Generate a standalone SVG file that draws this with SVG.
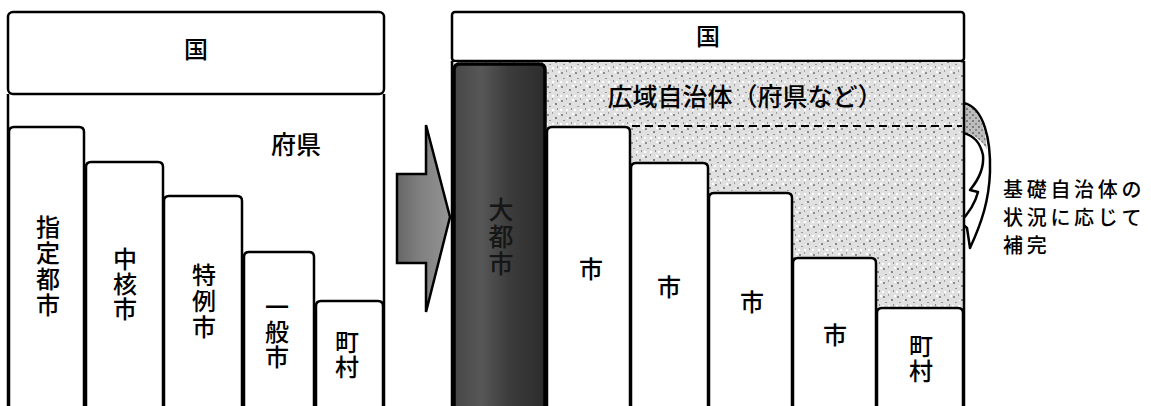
<svg xmlns="http://www.w3.org/2000/svg" width="1151" height="406" viewBox="0 0 1151 406">
<defs>
<style>
.box{fill:#fff;stroke:#000;stroke-width:2.5}
.col{fill:#fff;stroke:#000;stroke-width:2.5}
.t{font-family:"Noto Sans CJK JP","Noto Sans",sans-serif;font-size:24px;font-weight:500;fill:#000}
.tv{font-family:"Noto Sans CJK JP","Noto Sans",sans-serif;font-size:24px;font-weight:500;fill:#000;writing-mode:vertical-rl;text-orientation:upright}
.line{fill:none;stroke:#000;stroke-width:2.5}
</style>
<pattern id="stip" width="14" height="14" patternUnits="userSpaceOnUse">
<rect width="14" height="14" fill="#e0e0e0"/>
<rect x="1" y="2" width="2" height="2" fill="#8f8f8f"/>
<rect x="6" y="0" width="1" height="2" fill="#a0a0a0"/>
<rect x="9" y="5" width="2" height="2" fill="#858585"/>
<rect x="3" y="8" width="2" height="1" fill="#9a9a9a"/>
<rect x="11" y="10" width="1" height="2" fill="#909090"/>
<rect x="6" y="11" width="2" height="2" fill="#fff"/>
<rect x="12" y="1" width="2" height="2" fill="#fff"/>
<rect x="0" y="11" width="2" height="2" fill="#fff"/>
<rect x="7" y="6" width="1" height="1" fill="#fff"/>
</pattern>
<pattern id="stipdark" width="6" height="6" patternUnits="userSpaceOnUse">
<rect width="6" height="6" fill="#bdbdbd"/>
<rect x="0" y="0" width="2" height="2" fill="#7a7a7a"/>
<rect x="3" y="3" width="2" height="2" fill="#8a8a8a"/>
</pattern>
<linearGradient id="arrowg" x1="0" y1="0" x2="1" y2="0">
<stop offset="0" stop-color="#666"/>
<stop offset="0.4" stop-color="#7e7e7e"/>
<stop offset="1" stop-color="#959595"/>
</linearGradient>
<linearGradient id="darkg" x1="0" y1="0" x2="1" y2="0">
<stop offset="0" stop-color="#474747"/>
<stop offset="0.3" stop-color="#575757"/>
<stop offset="0.6" stop-color="#3c3c3c"/>
<stop offset="1" stop-color="#2c2c2c"/>
</linearGradient>
</defs>

<g id="left-kuni">
<rect class="box" x="8" y="12" width="376" height="82" rx="5"/>
<text class="t" x="196" y="58" text-anchor="middle">国</text>
</g>
<g id="left-fuken">
<path class="line" d="M8,94 V410 M384,94 V410"/>
<text class="t" x="296" y="154" text-anchor="middle" style="font-size:25px">府県</text>
</g>
<g id="left-shitei">
<path class="col" d="M9,410 V132 Q9,127 14,127 H79 Q84,127 84,132 V410"/>
<text class="tv" x="48" y="215" style="letter-spacing:2px">指定都市</text>
</g>
<g id="left-chukaku">
<path class="col" d="M86,410 V167 Q86,162 91,162 H158 Q163,162 163,167 V410"/>
<text class="tv" x="125" y="247" style="letter-spacing:1px">中核市</text>
</g>
<g id="left-tokurei">
<path class="col" d="M164,410 V201 Q164,196 169,196 H237 Q242,196 242,201 V410"/>
<text class="tv" x="204" y="263" style="letter-spacing:2px">特例市</text>
</g>
<g id="left-ippan">
<path class="col" d="M244,410 V257 Q244,252 249,252 H309 Q314,252 314,257 V410"/>
<text class="tv" x="277" y="295" style="letter-spacing:1px">一般市</text>
</g>
<g id="left-chouson">
<path class="col" d="M316,410 V306 Q316,301 321,301 H378 Q383,301 383,306 V410"/>
<text class="tv" x="347" y="330" style="letter-spacing:1px">町村</text>
</g>

<g id="connectors">
<path d="M397,174 H426 V125 L450,217 L426,312 V263 H397 Z" fill="url(#arrowg)" stroke="#000" stroke-width="2.5" stroke-linejoin="miter"/>
<path d="M964,103 C984,108 991,140 990,172 C989,200 982,222 970,248 L967,228 L960,222 C970,212 976,200 978,192 L970,190 C980,178 984,165 983,155 C980,142 974,136 964,133 Z" fill="#fff" stroke="#000" stroke-width="2.5" stroke-linejoin="round"/>
<path d="M965.5,105 C979,109 985,125 987,150 C983,141 975,136 965.5,132 Z" fill="url(#stipdark)"/>
</g>

<g id="right-kuni">
<rect class="box" x="452" y="12" width="512" height="49" rx="3"/>
<text class="t" x="708" y="45" text-anchor="middle">国</text>
</g>
<g id="right-kouiki">
<rect x="453" y="62" width="510" height="348" fill="url(#stip)"/>
<path class="line" d="M452,61 V410 M964,61 V410"/>
<line x1="632" y1="126" x2="962" y2="126" stroke="#000" stroke-width="2.2" stroke-dasharray="8,5"/>
<text class="t" x="745" y="106" text-anchor="middle" style="font-size:25px">広域自治体（府県など）</text>
</g>
<g id="right-daitoshi">
<path d="M454,410 V70 Q454,64 460,64 H539 Q545,64 545,70 V410" fill="url(#darkg)" stroke="#000" stroke-width="3.5"/>
<text class="tv" x="501" y="197" style="fill:#161616;font-size:25px;letter-spacing:2px">大都市</text>
</g>
<g id="right-shi1">
<path class="col" d="M547,410 V132 Q547,127 552,127 H625 Q630,127 630,132 V410"/>
<text class="t" x="591" y="278" text-anchor="middle">市</text>
</g>
<g id="right-shi2">
<path class="col" d="M631,410 V168 Q631,163 636,163 H703 Q708,163 708,168 V410"/>
<text class="t" x="669" y="296" text-anchor="middle">市</text>
</g>
<g id="right-shi3">
<path class="col" d="M709,410 V198 Q709,193 714,193 H787 Q792,193 792,198 V410"/>
<text class="t" x="752" y="311" text-anchor="middle">市</text>
</g>
<g id="right-shi4">
<path class="col" d="M793,410 V263 Q793,258 798,258 H871 Q876,258 876,263 V410"/>
<text class="t" x="835" y="344" text-anchor="middle">市</text>
</g>
<g id="right-chouson">
<path class="col" d="M877,410 V313 Q877,308 882,308 H958 Q963,308 963,313 V410"/>
<text class="tv" x="921" y="334" style="letter-spacing:1px">町村</text>
</g>

<g id="note">
<text class="t" style="font-size:20px;letter-spacing:3.7px"><tspan x="1003" y="197">基礎自治体の</tspan><tspan x="1003" y="225">状況に応じて</tspan><tspan x="1003" y="253">補完</tspan></text>
</g>
</svg>
